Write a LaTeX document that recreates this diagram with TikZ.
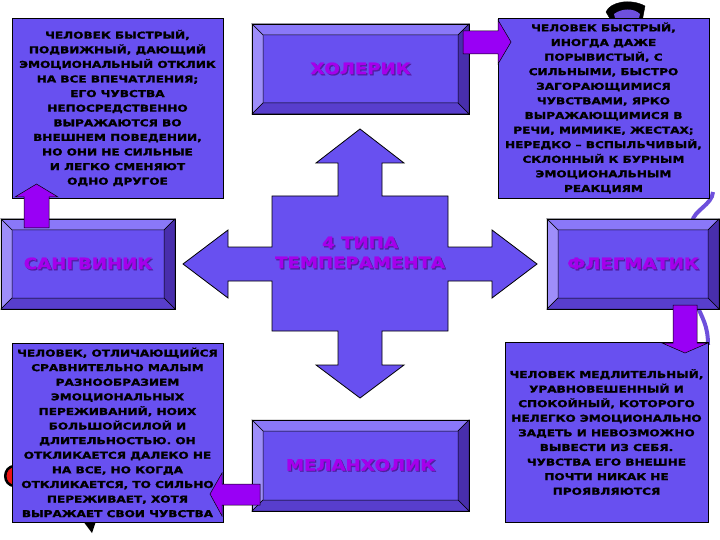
\documentclass[tikz,border=0pt]{standalone}
\usepackage{fontspec}
\setmainfont{DejaVu Sans}
\newfontfamily\boxfont[FakeStretch=1.27, FakeBold=1.6]{DejaVu Sans Bold}
\newfontfamily\labfont[FakeStretch=1.17, FakeBold=1.4]{DejaVu Sans Bold}
\usetikzlibrary{calc}
\definecolor{main}{RGB}{104,80,240}
\definecolor{bevtop}{RGB}{138,120,248}
\definecolor{bevleft}{RGB}{158,142,250}
\definecolor{bevright}{RGB}{72,46,172}
\definecolor{bevbot}{RGB}{88,62,205}
\definecolor{parr}{RGB}{153,0,245}
\definecolor{lab}{RGB}{165,0,235}
\definecolor{labsh}{RGB}{80,30,160}
\definecolor{decor}{RGB}{110,80,220}
\definecolor{decred}{RGB}{235,20,20}
\newcommand\shd[1]{\leavevmode\rlap{\raisebox{-1.2pt}{\hspace{1.2pt}\textcolor{labsh}{#1}}}#1}
\tikzset{
  x=1pt, y=-1pt,
  txtbox/.style={draw=black, line width=0.8pt, fill=main, align=center, text=black,
    font=\boxfont\fontsize{9.5}{14.6}\selectfont, inner sep=0pt, outer sep=0pt},
  bev/.style={draw=black, line width=0.8pt, fill=main, inner sep=0pt, outer sep=0pt,
    align=center, text=lab, font=\labfont\fontsize{15.5}{20}\selectfont},
  parrow/.style={draw=black, line width=0.5pt, fill=parr},
  face/.style={draw=black, line width=0.5pt},
}
\newcommand\bevelfaces[1]{%
  \filldraw[face, fill=bevtop] (#1.north west) -- (#1.north east) -- ($(#1.north east)+(-11,11)$) -- ($(#1.north west)+(11,11)$) -- cycle;
  \filldraw[face, fill=bevleft] (#1.north west) -- ($(#1.north west)+(11,11)$) -- ($(#1.south west)+(11,-11)$) -- (#1.south west) -- cycle;
  \filldraw[face, fill=bevright] (#1.north east) -- (#1.south east) -- ($(#1.south east)+(-11,-11)$) -- ($(#1.north east)+(-11,11)$) -- cycle;
  \filldraw[face, fill=bevbot] (#1.south west) -- (#1.south east) -- ($(#1.south east)+(-11,-11)$) -- ($(#1.south west)+(11,-11)$) -- cycle;
  \draw[black, line width=0.8pt] (#1.north west) rectangle (#1.south east);
}
\begin{document}
\begin{tikzpicture}
\useasboundingbox[fill=white] (0,0) rectangle (720,540);

% background clip-art fragments (behind the boxes)
\filldraw[black] (606,12) .. controls (610,2) and (630,-2) .. (645,6) -- (642,22) .. controls (630,12) and (618,14) .. (612,22) -- cycle;
\fill[decor] (614,14) .. controls (622,8) and (634,8) .. (640,14) -- (638,22) -- (616,22) -- cycle;
\draw[decor, line width=4pt] (713,192) .. controls (712,205) and (694,210) .. (692,222);
\draw[decor, line width=4pt] (697,305) .. controls (702,318) and (708,325) .. (708,345);
\filldraw[fill=decred, draw=black, line width=2.5pt] (15,466) .. controls (2,466) and (2,486) .. (15,486) -- cycle;
\fill[black] (83,521) -- (96,521) -- (92,533) -- cycle;

% central cross
\coordinate (c) at (360,264);
\filldraw[fill=main, draw=black, line width=0.8pt, shift={(c)}]
  (0,-135) -- (44,-101) -- (22,-101) -- (22,-68) -- (88,-68) -- (88,-17) -- (132,-17) -- (132,-34)
  -- (177,0) -- (132,34) -- (132,17) -- (88,17) -- (88,67) -- (22,67) -- (22,101) -- (44,101)
  -- (0,134) -- (-44,101) -- (-22,101) -- (-22,67) -- (-88,67) -- (-88,17) -- (-132,17) -- (-132,34)
  -- (-177,0) -- (-132,-34) -- (-132,-17) -- (-88,-17) -- (-88,-68) -- (-22,-68) -- (-22,-101) -- (-44,-101) -- cycle;
\node[text=lab, align=center, font=\labfont\fontsize{15.5}{20}\selectfont] (types) at (360,253)
  {\shd{4 ТИПА}\\\shd{ТЕМПЕРАМЕНТА}};

% text boxes
\node[txtbox, minimum width=211, minimum height=180] (tl) at (117.5,108) {%
ЧЕЛОВЕК БЫСТРЫЙ,\\ПОДВИЖНЫЙ, ДАЮЩИЙ\\ЭМОЦИОНАЛЬНЫЙ ОТКЛИК\\НА ВСЕ ВПЕЧАТЛЕНИЯ;\\ЕГО ЧУВСТВА\\НЕПОСРЕДСТВЕННО\\ВЫРАЖАЮТСЯ ВО\\ВНЕШНЕМ ПОВЕДЕНИИ,\\НО ОНИ НЕ СИЛЬНЫЕ\\И ЛЕГКО СМЕНЯЮТ\\ОДНО ДРУГОЕ};
\node[txtbox, minimum width=211, minimum height=180] (tr) at (603.5,108) {%
ЧЕЛОВЕК БЫСТРЫЙ,\\ИНОГДА ДАЖЕ\\ПОРЫВИСТЫЙ, С\\СИЛЬНЫМИ, БЫСТРО\\ЗАГОРАЮЩИМИСЯ\\ЧУВСТВАМИ, ЯРКО\\ВЫРАЖАЮЩИМИСЯ В\\РЕЧИ, МИМИКЕ, ЖЕСТАХ;\\НЕРЕДКО – ВСПЫЛЬЧИВЫЙ,\\СКЛОННЫЙ К БУРНЫМ\\ЭМОЦИОНАЛЬНЫМ\\РЕАКЦИЯМ};
\node[txtbox, minimum width=211, minimum height=179] (bl) at (117.5,432.5) {%
ЧЕЛОВЕК, ОТЛИЧАЮЩИЙСЯ\\СРАВНИТЕЛЬНО МАЛЫМ\\РАЗНООБРАЗИЕМ\\ЭМОЦИОНАЛЬНЫХ\\ПЕРЕЖИВАНИЙ, НОИХ\\БОЛЬШОЙСИЛОЙ И\\ДЛИТЕЛЬНОСТЬЮ. ОН\\ОТКЛИКАЕТСЯ ДАЛЕКО НЕ\\НА ВСЕ, НО КОГДА\\ОТКЛИКАЕТСЯ, ТО СИЛЬНО\\ПЕРЕЖИВАЕТ, ХОТЯ\\ВЫРАЖАЕТ СВОИ ЧУВСТВА};
\node[txtbox, minimum width=203, minimum height=180] (br) at (606.5,432) {%
ЧЕЛОВЕК МЕДЛИТЕЛЬНЫЙ,\\УРАВНОВЕШЕННЫЙ И\\СПОКОЙНЫЙ, КОТОРОГО\\НЕЛЕГКО ЭМОЦИОНАЛЬНО\\ЗАДЕТЬ И НЕВОЗМОЖНО\\ВЫВЕСТИ ИЗ СЕБЯ.\\ЧУВСТВА ЕГО ВНЕШНЕ\\ПОЧТИ НИКАК НЕ\\ПРОЯВЛЯЮТСЯ};

% bevel boxes
\node[bev, minimum width=217, minimum height=90] (chol) at (360.5,69) {\shd{ХОЛЕРИК}};
\bevelfaces{chol}
\node[bev, minimum width=174, minimum height=90] (sang) at (88,264) {\shd{САНГВИНИК}};
\bevelfaces{sang}
\node[bev, minimum width=172, minimum height=90] (phleg) at (633,264) {\shd{ФЛЕГМАТИК}};
\bevelfaces{phleg}
\node[bev, minimum width=217, minimum height=91] (mel) at (360.5,465.5) {\shd{МЕЛАНХОЛИК}};
\bevelfaces{mel}

% purple arrows
\filldraw[parrow] ($(sang.north west)+(23,9)$) -- ($(tl.south west)+(12,-1)$) -- ($(tl.south west)+(3,-1)$)
  -- ($(tl.south west)+(24.5,-14)$) -- ($(tl.south west)+(46,-1)$) -- ($(tl.south west)+(37,-1)$) -- ($(sang.north west)+(48,9)$) -- cycle;
\filldraw[parrow] ($(chol.north east)+(-6,7)$) -- ($(tr.north west)+(0,13)$) -- ($(tr.north west)+(0,2)$)
  -- ($(tr.north west)+(13,24)$) -- ($(tr.north west)+(0,46)$) -- ($(tr.north west)+(0,36)$) -- ($(chol.north east)+(-6,30)$) -- cycle;
\filldraw[parrow] ($(phleg.south east)+(-46,-4)$) -- ($(br.north east)+(-35,1)$) -- ($(br.north east)+(-46,1)$)
  -- ($(br.north east)+(-23,11)$) -- ($(br.north east)+(0,1)$) -- ($(br.north east)+(-11,1)$) -- ($(phleg.south east)+(-22,-4)$) -- cycle;
\filldraw[parrow] ($(mel.south west)+(8,-27)$) -- ($(bl.south east)+(-1,-38)$) -- ($(bl.south east)+(-1,-49)$)
  -- ($(bl.south east)+(-13,-28)$) -- ($(bl.south east)+(-1,-6)$) -- ($(bl.south east)+(-1,-17)$) -- ($(mel.south west)+(8,-6)$) -- cycle;
\end{tikzpicture}
\end{document}
